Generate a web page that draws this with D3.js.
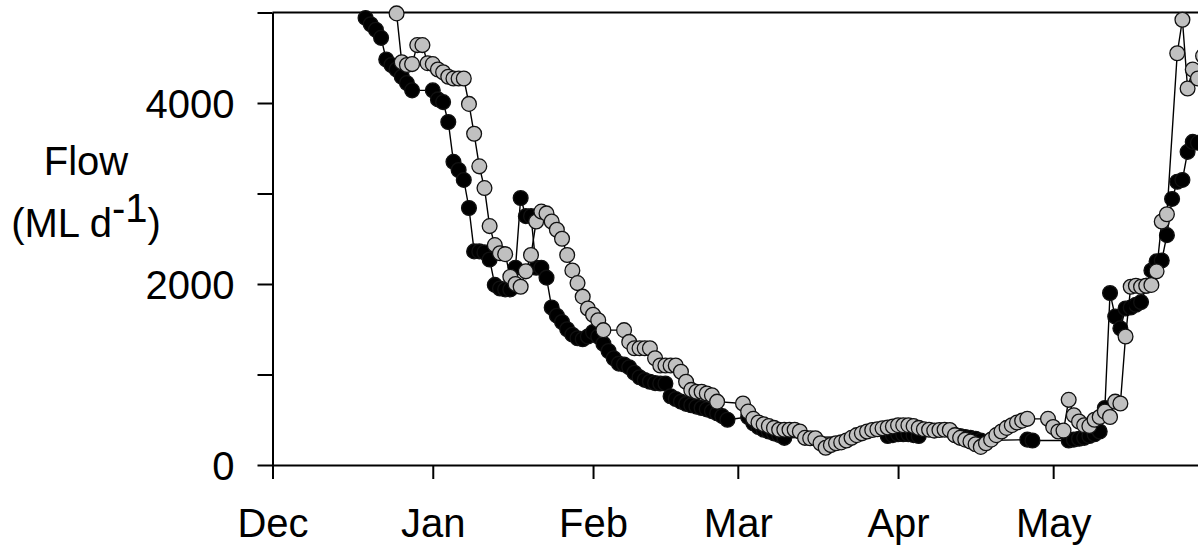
<!DOCTYPE html>
<html>
<head>
<meta charset="utf-8">
<script src="https://cdn.jsdelivr.net/npm/d3@7"></script>
<style>
  html, body { margin: 0; padding: 0; background: #fff; }
  svg { display: block; }
</style>
</head>
<body>
<script>
// ---------- Data (days since 1 Dec; flow in ML/d) ----------
const monthLabels = ["Dec", "Jan", "Feb", "Mar", "Apr", "May"];
const yTickValues = [0, 1000, 2000, 3000, 4000, 5000];
const yTickLabels = ["0", "", "2000", "", "4000", ""];

const blackDays = [
  18,19,20,21,22,23,24,25,26,27,
  31,32,33,34,35,36,37,38,39,40,41,42,43,44,45,46,47,48,49,50,
  51,52,53,54,55,56,57,58,59,60,61,62,63,64,65,66,67,68,69,70,
  71,72,73,74,75,76,77,78,79,80,81,82,83,84,85,86,87,88,
  92,93,94,95,96,97,98,99,
  119,120,121,122,123,124,125,
  132,133,134,135,136,137,
  146,147,
  154,155,156,157,158,159,160,161,162,163,164,165,166,167,168,169,170,
  171,172,173,174,175,176,177,178,179
];
const blackFlow = [
  4940,4870,4810,4720,4480,4420,4370,4290,4220,4140,
  4140,4040,4010,3790,3350,3260,3150,2840,2360,2360,2350,2270,1990,1950,1940,1940,2180,2950,2750,2750,
  2180,2180,2070,1740,1650,1580,1500,1440,1400,1390,1420,1470,1420,1340,1260,1180,1120,1110,1080,1020,
  970,940,920,905,900,900,760,730,700,675,660,645,630,615,595,570,540,500,
  530,460,420,390,370,350,330,300,
  320,330,340,340,340,330,320,
  330,320,310,300,290,270,
  280,270,
  270,280,290,300,320,340,370,630,1900,1640,1510,1730,1740,1770,1800,1980,2150,
  2250,2260,2540,2940,3130,3150,3460,3570,3560
];

const greyDays = [
  24,25,26,27,28,29,30,31,32,33,34,35,36,37,38,39,40,
  41,42,43,44,45,46,47,48,49,50,51,52,53,54,55,56,57,58,59,60,
  61,62,63,64,
  68,69,70,71,72,73,74,75,76,77,78,79,80,81,82,83,84,85,86,
  91,92,93,94,95,96,97,98,99,100,101,102,103,104,105,106,107,108,109,110,
  111,112,113,114,115,116,117,118,119,120,121,122,123,124,125,126,127,128,129,130,
  131,132,133,134,135,136,137,138,139,140,141,142,143,144,145,146,
  150,151,152,153,154,155,156,157,158,159,160,161,162,163,164,165,166,167,168,169,170,
  171,172,173,
  175,176,177,178,179,180
];
const greyFlow = [
  4990,4450,4420,4430,4640,4640,4440,4430,4370,4340,4290,4270,4270,4270,3990,3660,3300,
  3060,2640,2430,2340,2330,2080,2000,1970,2140,2320,2690,2800,2780,2690,2600,2500,2320,2150,2010,1860,
  1730,1660,1600,1490,
  1490,1360,1290,1290,1290,1290,1180,1100,1100,1100,1100,1030,920,830,810,810,790,770,700,
  680,590,510,470,450,430,410,390,390,390,390,370,300,295,295,240,190,220,240,250,
  270,300,330,350,370,387,395,405,415,425,440,440,440,430,410,395,390,380,387,390,
  387,330,300,280,260,230,200,240,280,330,370,410,440,470,490,510,
  510,420,370,380,720,550,480,440,430,500,530,590,530,700,680,1420,1970,1980,1970,1980,1990,
  2140,2690,2770,
  4550,4920,4160,4370,4270,4520
];

// ---------- Layout ----------
const W = 1198, H = 545;
const baseDate = Date.UTC(2018, 11, 1);
const dayToDate = d => new Date(baseDate + d * 86400000);

const x = d3.scaleUtc()
  .domain([new Date(Date.UTC(2018, 11, 1)), new Date(Date.UTC(2019, 5, 1))])
  .range([272.5, 272.5 + 182 * 5.17]);
const y = d3.scaleLinear().domain([0, 5000]).range([465, 12.5]);

const FONT = "'Liberation Sans', Arial, Helvetica, sans-serif";
const FS = 40;

const svg = d3.select("body").append("svg")
  .attr("width", W).attr("height", H);

// ---------- Axes ----------
const yAxis = d3.axisLeft(y)
  .tickValues(yTickValues)
  .tickFormat((d, i) => yTickLabels[i])
  .tickSize(15).tickSizeOuter(0).tickPadding(23);
const gy = svg.append("g").attr("transform", `translate(${x.range()[0]},0)`).call(yAxis);

const monthTicks = d3.utcMonth.range(x.domain()[0], x.domain()[1]).slice(0, monthLabels.length);
const xAxis = d3.axisBottom(x)
  .tickValues(monthTicks)
  .tickFormat((d, i) => monthLabels[i])
  .tickSize(14).tickSizeOuter(0).tickPadding(30);
const gx = svg.append("g").attr("transform", `translate(0,${y(0)})`).call(xAxis);

[gx, gy].forEach(g => {
  g.selectAll("path.domain").attr("stroke", "#000").attr("stroke-width", 2);
  g.selectAll(".tick line").attr("stroke", "#000").attr("stroke-width", 2);
  g.selectAll("text").attr("font-family", FONT).attr("font-size", FS).attr("fill", "#000");
});
gy.selectAll(".tick text").attr("dy", "0.36em");

// top frame line
svg.append("line")
  .attr("x1", x.range()[0]).attr("x2", x.range()[1])
  .attr("y1", y(5000)).attr("y2", y(5000))
  .attr("stroke", "#000").attr("stroke-width", 2);

// y-axis title
const title = svg.append("g").attr("font-family", FONT).attr("font-size", FS).attr("fill", "#000");
title.append("text").attr("x", 86).attr("y", 175).attr("text-anchor", "middle").text("Flow");
const t2 = title.append("text").attr("x", 86).attr("y", 237).attr("text-anchor", "middle");
t2.append("tspan").text("(ML d");
t2.append("tspan").attr("dy", -15).text("-1");
t2.append("tspan").attr("dy", 15).text(")");

// ---------- Series ----------
function drawSeries(days, flow, fill) {
  const pts = days.map((d, i) => ({ date: dayToDate(d), v: flow[i] }));
  const line = d3.line().x(p => x(p.date)).y(p => y(p.v));
  const g = svg.append("g");
  g.append("path").datum(pts)
    .attr("d", line).attr("fill", "none")
    .attr("stroke", "#000").attr("stroke-width", 1.4);
  g.selectAll("circle").data(pts).join("circle")
    .attr("cx", p => x(p.date)).attr("cy", p => y(p.v))
    .attr("r", 7.4)
    .attr("fill", fill).attr("stroke", "#111").attr("stroke-width", 1.3);
}
drawSeries(blackDays, blackFlow, "#000");
drawSeries(greyDays, greyFlow, "#c0c0c0");
</script>
</body>
</html>
